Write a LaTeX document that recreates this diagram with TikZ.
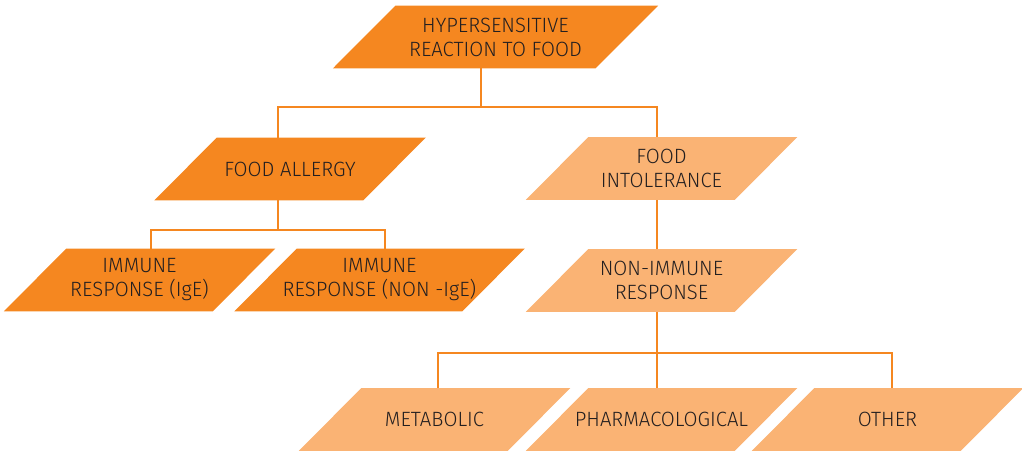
\documentclass[tikz,border=0pt]{standalone}
\usepackage{fontspec}
\setmainfont{Fira Sans Light}[FakeStretch=0.98]
\usetikzlibrary{calc,backgrounds}
\definecolor{darkorange}{RGB}{245,135,32}
\definecolor{lightorange}{RGB}{250,179,116}
\definecolor{inkblack}{RGB}{35,31,32}

\begin{document}
\begin{tikzpicture}[x=0.75pt,y=0.75pt,yscale=-1,xscale=1,
  box/.style={rectangle,minimum height=47pt,minimum width=156.75pt,
    inner sep=0pt,outer sep=0pt,align=center,text=inkblack,
    font=\fontsize{15.5}{18}\selectfont},
  link/.style={draw=darkorange,line width=1.6pt}]
\useasboundingbox (0,0) rectangle (1022,454);

% Boxes
\node [box,minimum width=197pt] (hyper) at (495.5,37) {HYPERSENSITIVE\\REACTION TO FOOD};
\node [box] (allergy) at (290,169) {FOOD ALLERGY};
\node [box] (intol) at (661.5,168.5) {FOOD\\INTOLERANCE};
\node [box] (ige) at (139.5,280) {IMMUNE\\RESPONSE (IgE)};
\node [box,minimum width=171pt] (nonige) at (379.5,280) {IMMUNE\\RESPONSE (NON -IgE)};
\node [box] (nonimm) at (661.5,280.5) {NON-IMMUNE\\RESPONSE};
\node [box] (metab) at (434.5,419.5) {METABOLIC};
\node [box] (pharm) at (661.5,419.5) {PHARMACOLOGICAL};
\node [box] (other) at (887.5,419.5) {OTHER};

% Slanted fills behind the texts
\begin{scope}[on background layer]
\foreach \n/\c in {hyper/darkorange,allergy/darkorange,ige/darkorange,nonige/darkorange,
    intol/lightorange,nonimm/lightorange,metab/lightorange,pharm/lightorange,other/lightorange}
  \fill [\c] ($(\n.south west)+(-31.25,0)$) -- ($(\n.north west)+(31.25,0)$)
    -- ($(\n.north east)+(31.25,0)$) -- ($(\n.south east)+(-31.25,0)$) -- cycle;
\end{scope}

% Junctions
\coordinate (jtop) at (481,107);
\coordinate (jall) at (278,107);
\coordinate (jint) at (657,107);
\coordinate (jimm) at (278,230);
\coordinate (jige) at (151,230);
\coordinate (jnon) at (385,230);
\coordinate (jmid) at (657,353);
\coordinate (jmet) at (438,353);
\coordinate (joth) at (892,353);

% Connectors
\draw [link] (hyper.south -| jtop) -- (jtop);
\draw [link] (allergy.north -| jall) -- (jall) -- (jint) -- (intol.north -| jint);
\draw [link] (allergy.south -| jimm) -- (jimm);
\draw [link] (ige.north -| jige) -- (jige) -- (jnon) -- (nonige.north -| jnon);
\draw [link] (intol.south -| jint) -- (nonimm.north -| jint);
\draw [link] (nonimm.south -| jmid) -- (pharm.north -| jmid);
\draw [link] (metab.north -| jmet) -- (jmet) -- (joth) -- (other.north -| joth);

\end{tikzpicture}
\end{document}
